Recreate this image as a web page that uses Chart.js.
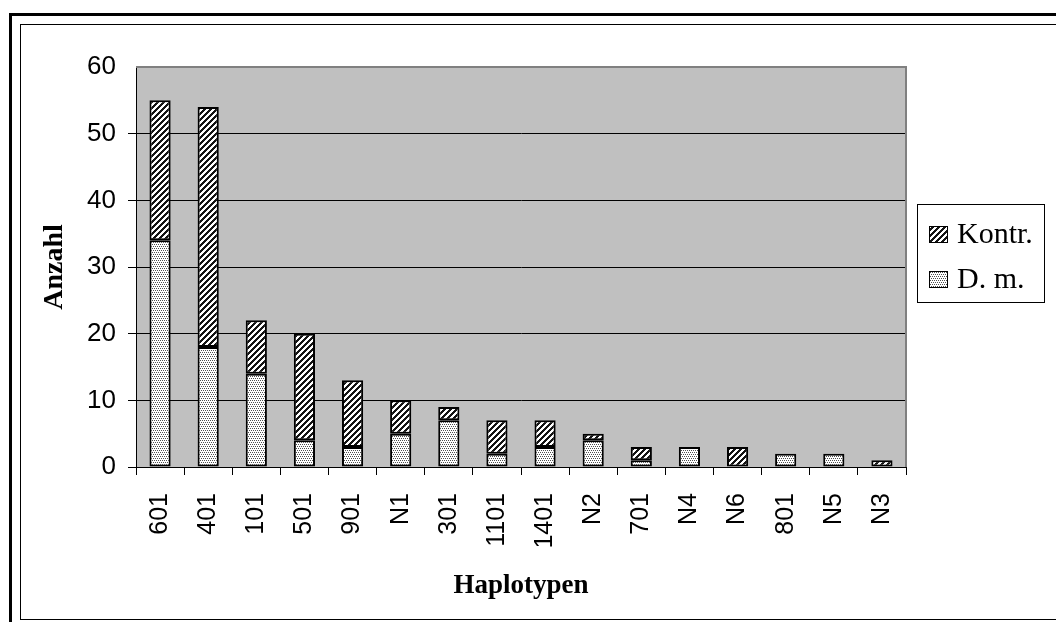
<!DOCTYPE html>
<html>
<head>
<meta charset="utf-8">
<script src="https://cdn.jsdelivr.net/npm/chart.js@4.4.1/dist/chart.umd.min.js"></script>
<style>
  html, body { margin: 0; padding: 0; background: #fff; }
  canvas { display: block; }
</style>
</head>
<body>
<canvas id="haploChart" width="1056" height="622"></canvas>
<script>
// Haplotypen (x categories)
const haplotypen = ['601', '401', '101', '501', '901', 'N1', '301', '1101', '1401', 'N2', '701', 'N4', 'N6', '801', 'N5', 'N3'];
// D. m. (lower, dotted part of each stack)
const dmValues = [34, 18, 14, 4, 3, 5, 7, 2, 3, 4, 1, 3, 0, 2, 2, 0];
// Kontr. (upper, hatched part of each stack)
const kontrValues = [21, 36, 8, 16, 10, 5, 2, 5, 4, 1, 2, 0, 3, 0, 0, 1];
// y axis ticks
const yMin = 0;
const yMax = 60;
const yStep = 10;

const sansFont = "'Liberation Sans', Arial, sans-serif";
const serifFont = "'Liberation Serif', 'Times New Roman', serif";

// build pixel patterns like the old Excel fills
function makePattern(size, isDark, darkRgb) {
    const tile = document.createElement('canvas');
    tile.width = size;
    tile.height = size;
    const tctx = tile.getContext('2d');
    const img = tctx.createImageData(size, size);
    for (let y = 0; y < size; y++) {
        for (let x = 0; x < size; x++) {
            const i = (y * size + x) * 4;
            const dark = isDark(x, y);
            img.data[i] = dark ? darkRgb : 255;
            img.data[i + 1] = dark ? darkRgb : 255;
            img.data[i + 2] = dark ? darkRgb : 255;
            img.data[i + 3] = 255;
        }
    }
    tctx.putImageData(img, 0, 0);
    return document.getElementById('haploChart').getContext('2d').createPattern(tile, 'repeat');
}

const hatchFill = makePattern(6, (x, y) => (x + y) % 6 < 3, 20);
// stipple: dots on every other row, shifted by one on alternate dotted rows
const dotFill = makePattern(4, (x, y) => (y === 0 && x % 2 === 0) || (y === 2 && x % 2 === 1), 80);

// background, frames, plot area colour, custom legend
const excelLook = {
    id: 'excelLook',
    beforeDraw(chart) {
        const { ctx, chartArea: a } = chart;
        ctx.save();
        ctx.fillStyle = '#ffffff';
        ctx.fillRect(0, 0, chart.width, chart.height);
        ctx.strokeStyle = '#000000';
        ctx.lineWidth = 3;
        ctx.strokeRect(10.5, 14.5, 1060, 620);
        ctx.lineWidth = 1;
        ctx.strokeRect(20.5, 24.5, 1050, 595);
        ctx.fillStyle = '#c0c0c0';
        ctx.fillRect(a.left, a.top, a.right - a.left, a.bottom - a.top);
        ctx.restore();
    },
    afterDraw(chart) {
        const { ctx, chartArea: a } = chart;
        ctx.save();
        // gray top and right edge of plot area
        ctx.strokeStyle = '#808080';
        ctx.lineWidth = 2;
        ctx.beginPath();
        ctx.moveTo(a.left, a.top);
        ctx.lineTo(a.right, a.top);
        ctx.lineTo(a.right, a.bottom);
        ctx.stroke();

        // legend box
        ctx.strokeStyle = '#000000';
        ctx.lineWidth = 1;
        ctx.strokeRect(917.5, 204.5, 127, 98);
        const entries = [...chart.data.datasets].reverse();
        ctx.font = '30px ' + serifFont;
        ctx.textBaseline = 'alphabetic';
        ctx.textAlign = 'left';
        entries.forEach((ds, i) => {
            const y = 226 + i * 45;
            ctx.fillStyle = ds.backgroundColor;
            ctx.fillRect(929, y, 19, 17);
            ctx.strokeRect(929.5, y + 0.5, 18, 16);
            ctx.fillStyle = '#000000';
            ctx.fillText(ds.label, 957, y + 17);
        });
        ctx.restore();
    }
};

new Chart(document.getElementById('haploChart'), {
    type: 'bar',
    data: {
        labels: haplotypen,
        datasets: [
            {
                label: 'D. m.',
                data: dmValues,
                backgroundColor: dotFill,
                borderColor: '#000000',
                borderWidth: 2,
                borderSkipped: false
            },
            {
                label: 'Kontr.',
                data: kontrValues,
                backgroundColor: hatchFill,
                borderColor: '#000000',
                borderWidth: 2,
                borderSkipped: false
            }
        ]
    },
    options: {
        responsive: false,
        animation: false,
        events: [],
        layout: { padding: { left: 38, top: 67, right: 150, bottom: 20 } },
        datasets: { bar: { categoryPercentage: 1, barPercentage: 0.44 } },
        plugins: {
            legend: { display: false },
            tooltip: { enabled: false }
        },
        scales: {
            x: {
                stacked: true,
                afterFit: s => { s.height = 135; },
                border: { color: '#000000', width: 1 },
                grid: {
                    display: true,
                    drawOnChartArea: false,
                    drawTicks: true,
                    tickLength: 8,
                    color: '#000000',
                    offset: true
                },
                ticks: {
                    color: '#000000',
                    font: { family: sansFont, size: 25 },
                    maxRotation: 90,
                    minRotation: 90,
                    padding: 18,
                    autoSkip: false
                },
                title: {
                    display: true,
                    text: 'Haplotypen',
                    color: '#000000',
                    font: { family: serifFont, size: 27, weight: 'bold', lineHeight: 1.2 },
                    padding: 0
                }
            },
            y: {
                stacked: true,
                min: yMin,
                max: yMax,
                afterFit: s => { s.width = 98; },
                border: { color: '#000000', width: 1 },
                grid: {
                    color: ctx => (ctx.tick && ctx.tick.value === yMax ? 'rgba(0,0,0,0)' : '#000000'),
                    lineWidth: 1,
                    tickLength: 8,
                    drawTicks: true
                },
                ticks: {
                    stepSize: yStep,
                    color: '#000000',
                    font: { family: sansFont, size: 26 },
                    padding: 12
                },
                title: {
                    display: true,
                    text: 'Anzahl',
                    color: '#000000',
                    font: { family: serifFont, size: 28, weight: 'bold', lineHeight: 1.2 },
                    padding: 0
                }
            }
        }
    },
    plugins: [excelLook]
});
</script>
</body>
</html>
